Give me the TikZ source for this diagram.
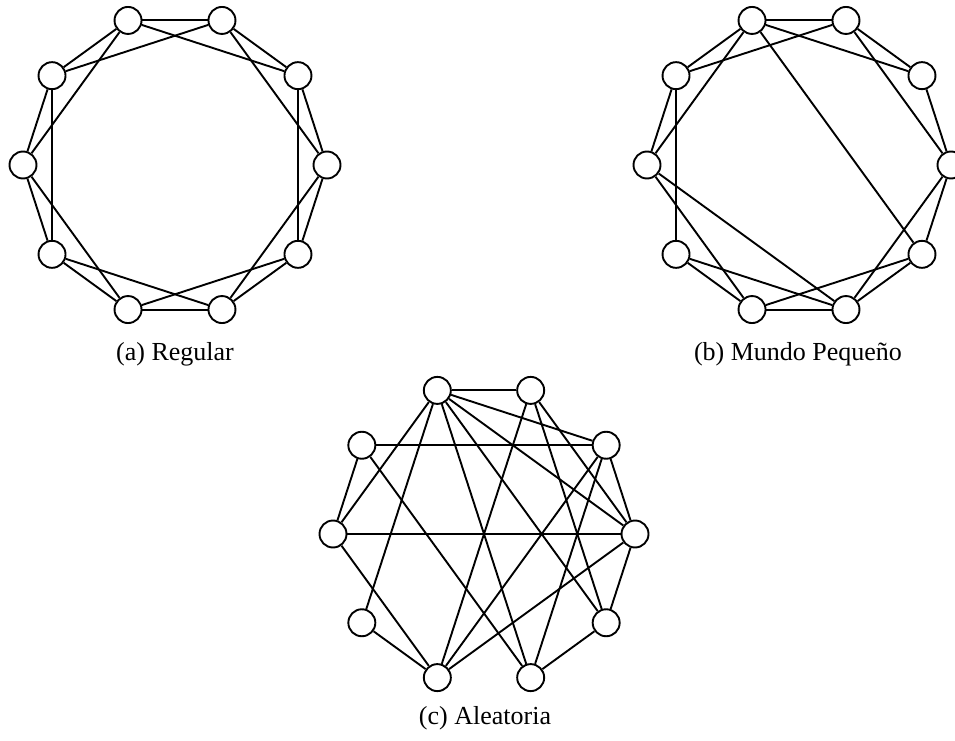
\documentclass[tikz,border=0pt]{standalone}
\usepackage{fontspec}
\setmainfont{Liberation Serif}
\begin{document}
\begin{tikzpicture}[x=1pt,y=1pt,
  vertex/.style={circle,draw,fill=white,line width=1.9pt,minimum size=27pt,inner sep=0pt},
  link/.style={line width=1.9pt},
  caption/.style={font=\fontsize{26}{30}\selectfont}]
\useasboundingbox (0,0) rectangle (955,740);
\clip (0,0) rectangle (955,740);

% (a) regular ring lattice
\begin{scope}[shift={(175,575)}]
  \foreach \i in {0,...,9} \node[vertex] (a\i) at (\i*36:152) {};
  \foreach \i in {0,...,9} {
    \pgfmathtruncatemacro{\j}{mod(\i+1,10)}
    \pgfmathtruncatemacro{\k}{mod(\i+2,10)}
    \draw[link] (a\i) -- (a\j);
    \draw[link] (a\i) -- (a\k);
  }
\end{scope}
\node[caption] (capa) at (175,386) {(a) Regular};

% (b) small world: rewired lattice
\begin{scope}[shift={(799,575)}]
  \foreach \i in {0,...,9} \node[vertex] (b\i) at (\i*36:152) {};
  \foreach \u/\v in {3/2,3/4,3/5,3/1,3/9,2/4,2/1,2/0,1/0,0/9,0/8,9/8,9/7,8/7,8/6,8/5,5/7,5/4,4/6,6/7}
    \draw[link] (b\u) -- (b\v);
\end{scope}
\node[caption] (capb) at (798,386) {(b) Mundo Pequeño};

% (c) random graph
\begin{scope}[shift={(484,206)}]
  \foreach \i in {0,...,9} \node[vertex] (c\i) at (\i*36:151) {};
  \foreach \u/\v in {3/2,3/1,3/0,3/9,3/8,3/6,3/5,4/1,4/5,4/8,2/7,2/9,2/0,1/0,1/7,1/8,0/5,0/7,0/9,9/8,7/6,7/5}
    \draw[link] (c\u) -- (c\v);
\end{scope}
\node[caption] (capc) at (485,22) {(c) Aleatoria};
\end{tikzpicture}
\end{document}
